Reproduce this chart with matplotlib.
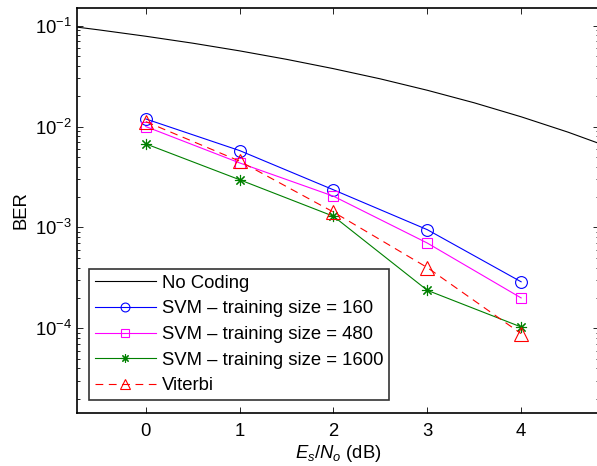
import matplotlib
matplotlib.use("Agg")
import matplotlib.pyplot as plt
from matplotlib.ticker import LogLocator, NullFormatter

plt.rcParams['font.family'] = ['Liberation Sans', 'DejaVu Sans']
plt.rcParams['mathtext.fontset'] = 'custom'
plt.rcParams['mathtext.it'] = 'Liberation Sans:italic'
plt.rcParams['mathtext.rm'] = 'Liberation Sans'

# Uncoded reference curve (BER vs Es/No)
snr_uncoded = [-0.75, -0.5, 0.0, 0.5, 1.0, 1.5, 2.0, 2.5, 3.0, 3.5, 4.0, 4.5, 4.85]
ber_uncoded = [0.0973, 0.0909, 0.0786, 0.0671, 0.0563, 0.0464, 0.0375,
               0.0297, 0.0229, 0.0172, 0.0125, 0.0088, 0.0067]

# Simulated points
snr = [0, 1, 2, 3, 4]
ber_svm_160 = [0.0119, 0.00578, 0.00236, 0.00095, 0.000289]
ber_svm_480 = [0.0100, 0.00436, 0.00204, 0.00070, 0.000200]
ber_svm_1600 = [0.00674, 0.00297, 0.00129, 0.000238, 0.000103]
ber_viterbi = [0.0112, 0.00454, 0.00142, 0.00040, 0.0000885]

labels = ["No Coding",
          "SVM \u2013 training size = 160",
          "SVM \u2013 training size = 480",
          "SVM \u2013 training size = 1600",
          "Viterbi"]

W, H = 597, 466
fig = plt.figure(figsize=(W / 100, H / 100), dpi=100)
ax = fig.add_axes([77 / W, (H - 413) / H, (599 - 77) / W, (413 - 8) / H])

lw = 0.8
fs = 13.3
asterisk = (8, 2, 0)
ax.semilogy(snr_uncoded, ber_uncoded, color='black', lw=lw, label=labels[0])
ax.semilogy(snr, ber_svm_160, color='blue', lw=lw, marker='o', ms=8.5,
            mfc='none', mec='blue', mew=lw, label=labels[1])
ax.semilogy(snr, ber_svm_480, color='magenta', lw=lw, marker='s', ms=7.5,
            mfc='none', mec='magenta', mew=lw, label=labels[2])
ax.semilogy(snr, ber_svm_1600, color='green', lw=lw, marker=asterisk, ms=8,
            mfc='none', mec='green', mew=lw, label=labels[3])
ax.semilogy(snr, ber_viterbi, color='red', lw=lw, ls=(0, (7, 5)), marker='^',
            ms=9.5, mfc='none', mec='red', mew=lw, label=labels[4])

ax.set_xlim(-0.733, 4.83)
ax.set_ylim(10 ** -4.84, 10 ** -0.8245)
ax.set_xticks([0, 1, 2, 3, 4])
ax.yaxis.set_major_locator(LogLocator(base=10, numticks=10))
ax.yaxis.set_minor_locator(LogLocator(base=10, subs=range(2, 10), numticks=20))
ax.yaxis.set_minor_formatter(NullFormatter())

ax.tick_params(which='both', direction='in', top=True, right=True,
               labelsize=fs, width=0.6)
ax.tick_params(which='major', length=4)
ax.tick_params(which='minor', length=2.5)
ax.tick_params(axis='x', pad=7)
for s in ax.spines.values():
    s.set_linewidth(1.2)

ax.set_xlabel("$E_s/N_o$ (dB)", fontsize=fs, labelpad=2)
ax.set_ylabel("BER", fontsize=fs, labelpad=4)

leg = ax.legend(loc='lower left', bbox_to_anchor=(12 / 522, 13 / 405),
                fontsize=fs, frameon=True, fancybox=False, edgecolor='black',
                handlelength=3.3, handletextpad=0.35, borderpad=0.3,
                labelspacing=0.47, borderaxespad=0, markerscale=0.75)
leg.get_frame().set_linewidth(1.2)

fig.savefig("out.png", dpi=100)
